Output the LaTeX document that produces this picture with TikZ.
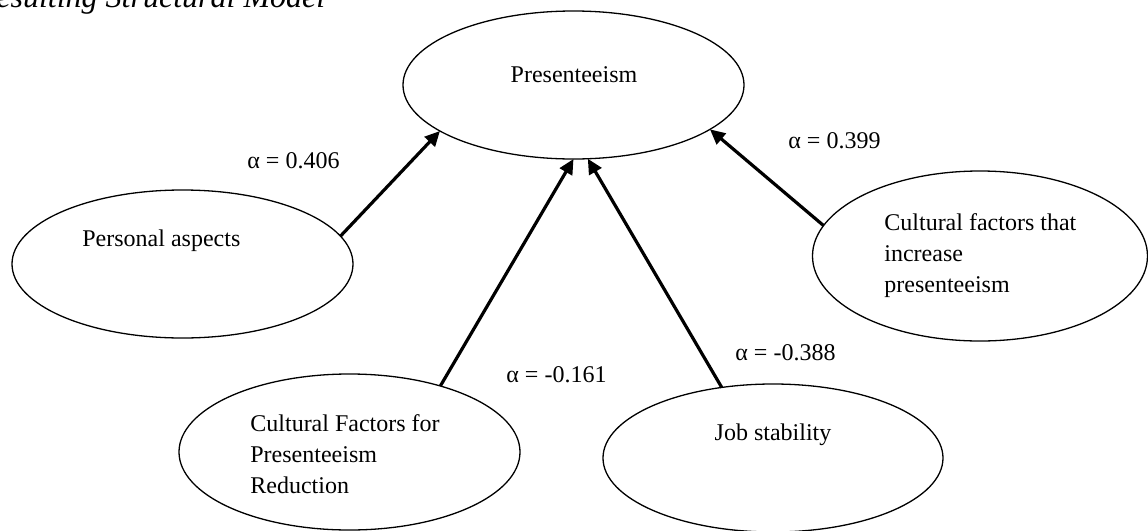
\documentclass[tikz,border=0pt]{standalone}
\usepackage{fontspec}
\setmainfont{Liberation Serif}
\usetikzlibrary{arrows.meta,shapes.geometric}
\begin{document}
\begin{tikzpicture}[x=0.5pt,y=-0.5pt,
  oval/.style={draw,ellipse,line width=0.65pt,inner sep=0pt,outer sep=0pt},
  txt/.style={inner sep=0pt,font=\fontsize{12}{15.5}\selectfont},
  conn/.style={line width=1.6pt,-{Triangle[length=7.5pt,width=7pt]}}]
\useasboundingbox (0,0) rectangle (1148,531);
\node[inner sep=0pt,anchor=base west,font=\fontsize{16}{19}\selectfont\itshape] (title) at (-4,7) {esulting Structural Model};
% ellipses
\node[oval,minimum width=170.5pt,minimum height=74pt] (pres) at (573.5,85) {};
\node[oval,minimum width=170.5pt,minimum height=74pt] (pers) at (182.5,264) {};
\node[oval,minimum width=167.5pt,minimum height=85pt] (cul) at (980,256) {};
\node[oval,minimum width=170.5pt,minimum height=78pt] (cfr) at (349.5,452) {};
\node[oval,minimum width=170pt,minimum height=74pt] (job) at (773,458) {};
% texts
\node[txt,anchor=base] (presT) at (574,82) {Presenteeism};
\node[txt,anchor=base west] (persT) at (82,246) {Personal aspects};
\node[txt,anchor=base west,align=left] (culT) at (884,292) {Cultural factors that\\increase\\presenteeism};
\node[txt,anchor=base west,align=left] (cfrT) at (250,493) {Cultural Factors for\\Presenteeism\\Reduction};
\node[txt,anchor=base] (jobT) at (773,440) {Job stability};
% labels
\node[txt,anchor=base west] (l1) at (247,168) {α = 0.406};
\node[txt,anchor=base west] (l2) at (788,148) {α = 0.399};
\node[txt,anchor=base west] (l3) at (506,382) {α = -0.161};
\node[txt,anchor=base west] (l4) at (735,360) {α = -0.388};
% connectors
\draw[conn] (pers.10) -- (pres.199);
\draw[conn] (cfr.36) -- (pres.270);
\draw[conn] (job.126) -- (pres.281);
\draw[conn] (cul.169) -- (pres.342);
\end{tikzpicture}
\end{document}
